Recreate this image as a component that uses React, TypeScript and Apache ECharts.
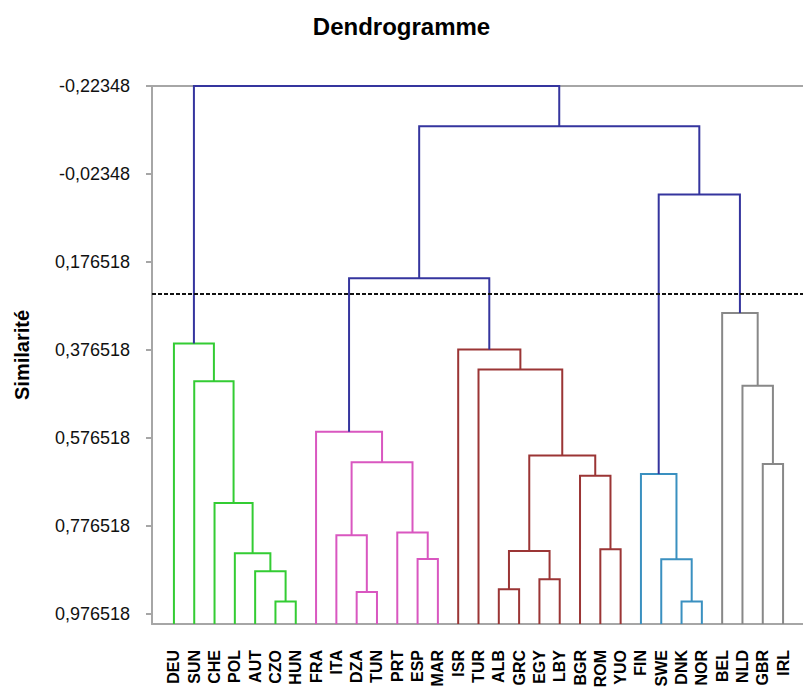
import React, { useEffect, useRef } from "react";
import * as echarts from "echarts";

// ---- data ----
const LEAVES = [
  "DEU", "SUN", "CHE", "POL", "AUT", "CZO", "HUN",
  "FRA", "ITA", "DZA", "TUN", "PRT", "ESP", "MAR",
  "ISR", "TUR", "ALB", "GRC", "EGY", "LBY", "BGR", "ROM", "YUO",
  "FIN", "SWE", "DNK", "NOR",
  "BEL", "NLD", "GBR", "IRL",
];

// merges (linkage style): [childA, childB, similarity level, colour group]
// ids 0..30 are leaves, merge k gets id 31 + k
const MERGES: [number, number, number, string][] = [
  [5, 6, 0.949, "green"],     // 31 CZO-HUN
  [25, 26, 0.949, "teal"],    // 32 DNK-NOR
  [9, 10, 0.927, "pink"],     // 33 DZA-TUN
  [16, 17, 0.921, "brown"],   // 34 ALB-GRC
  [18, 19, 0.898, "brown"],   // 35 EGY-LBY
  [4, 31, 0.880, "green"],    // 36
  [24, 32, 0.853, "teal"],    // 37
  [12, 13, 0.852, "pink"],    // 38 ESP-MAR
  [3, 36, 0.839, "green"],    // 39
  [34, 35, 0.834, "brown"],   // 40
  [21, 22, 0.830, "brown"],   // 41 ROM-YUO
  [8, 33, 0.798, "pink"],     // 42
  [11, 38, 0.792, "pink"],    // 43
  [2, 39, 0.725, "green"],    // 44
  [20, 41, 0.663, "brown"],   // 45
  [23, 37, 0.659, "teal"],    // 46
  [29, 30, 0.636, "gray"],    // 47 GBR-IRL
  [42, 43, 0.632, "pink"],    // 48
  [40, 45, 0.617, "brown"],   // 49
  [7, 48, 0.563, "pink"],     // 50
  [28, 47, 0.458, "gray"],    // 51
  [1, 44, 0.448, "green"],    // 52
  [15, 49, 0.421, "brown"],   // 53
  [14, 53, 0.376, "brown"],   // 54
  [0, 52, 0.362, "green"],    // 55
  [27, 51, 0.293, "gray"],    // 56
  [50, 54, 0.214, "navy"],    // 57
  [46, 56, 0.023, "navy"],    // 58
  [57, 58, -0.132, "navy"],   // 59
  [55, 59, -0.22348, "navy"], // 60
];

const CUT_LEVEL = 0.2522;
const LEAF_LEVEL = 1.0;
const Y_MIN = -0.22348;
const Y_MAX = 1.0;
const TICK_VALUES = [-0.22348, -0.02348, 0.176518, 0.376518, 0.576518, 0.776518, 0.976518];
const TICK_LABELS = ["-0,22348", "-0,02348", "0,176518", "0,376518", "0,576518", "0,776518", "0,976518"];

const COLORS: Record<string, string> = {
  green: "#33cc33",
  pink: "#d957c0",
  brown: "#9b3535",
  teal: "#3a90c0",
  gray: "#888888",
  navy: "#35359e",
};

const FONT = "Arial, 'Liberation Sans', sans-serif";
const AXIS_GRAY = "#a6a6a6";

function buildSegments() {
  const n = LEAVES.length;
  const xs: number[] = LEAVES.map((_, i) => i);
  const hs: number[] = LEAVES.map(() => LEAF_LEVEL);
  const rows: (number | string)[][] = [];
  MERGES.forEach(([a, b, h, c], k) => {
    rows.push([xs[a], xs[b], hs[a], hs[b], h, c]);
    xs[n + k] = (xs[a] + xs[b]) / 2;
    hs[n + k] = h;
  });
  return rows;
}

export default function App() {
  const ref = useRef<HTMLDivElement>(null);
  useEffect(() => {
    if (!ref.current) return;
    const chart = echarts.init(ref.current, undefined, { renderer: "svg" });
    const rows = buildSegments();
    const leafIdx = LEAVES.map((_, i) => i);
    const X_MIN = -1.08;
    const X_MAX = LEAVES.length - 1 + 1.08;
    chart.setOption({
      animation: false,
      backgroundColor: "#ffffff",
      title: {
        text: "Dendrogramme",
        left: "center",
        top: 9,
        textStyle: { fontFamily: FONT, fontWeight: "bold", fontSize: 24, color: "#000" },
      },
      grid: {
        left: 152,
        top: 86,
        width: 653,
        bottom: 69,
        show: false,
        outerBoundsMode: "none",
      },
      xAxis: [
        {
          type: "value",
          position: "bottom",
          min: X_MIN,
          max: X_MAX,
          axisLine: { show: true, onZero: false, lineStyle: { color: AXIS_GRAY, width: 2 } },
          axisTick: { show: false },
          splitLine: { show: false },
          axisLabel: {
            customValues: leafIdx,
            rotate: 90,
            margin: 26,
            fontFamily: FONT,
            fontWeight: "bold",
            fontSize: 16,
            color: "#000",
            formatter: (v: number) => LEAVES[Math.round(v)] ?? "",
          },
        },
        {
          type: "value",
          position: "top",
          min: X_MIN,
          max: X_MAX,
          axisLine: { show: true, onZero: false, lineStyle: { color: AXIS_GRAY, width: 2 } },
          axisTick: { show: false },
          axisLabel: { show: false },
          splitLine: { show: false },
        },
      ],
      yAxis: {
        type: "value",
        inverse: true,
        min: Y_MIN,
        max: Y_MAX,
        name: "Similarité",
        nameLocation: "middle",
        nameRotate: 90,
        nameGap: 120,
        nameTextStyle: { fontFamily: FONT, fontWeight: "bold", fontSize: 20, color: "#000" },
        axisLine: { show: true, onZero: false, lineStyle: { color: AXIS_GRAY, width: 2 } },
        axisTick: { show: true, customValues: TICK_VALUES, length: 6, lineStyle: { color: AXIS_GRAY, width: 2 } },
        splitLine: { show: false },
        axisLabel: {
          customValues: TICK_VALUES,
          margin: 22,
          fontFamily: FONT,
          fontSize: 18,
          color: "#111",
          formatter: (v: number) => {
            const i = TICK_VALUES.findIndex((t) => Math.abs(t - v) < 1e-6);
            return i >= 0 ? TICK_LABELS[i] : "";
          },
        },
      },
      series: [
        {
          type: "custom",
          coordinateSystem: "cartesian2d",
          xAxisIndex: 0,
          yAxisIndex: 0,
          data: rows,
          encode: { x: [0, 1], y: [2, 3, 4] },
          renderItem: (params: any, api: any) => {
            const xa = api.value(0);
            const xb = api.value(1);
            const ha = api.value(2);
            const hb = api.value(3);
            const h = api.value(4);
            const c = rows[params.dataIndex][5] as string;
            const p1 = api.coord([xa, ha]);
            const p2 = api.coord([xa, h]);
            const p3 = api.coord([xb, h]);
            const p4 = api.coord([xb, hb]);
            return {
              type: "polyline",
              shape: { points: [p1, p2, p3, p4] },
              style: { stroke: COLORS[c], lineWidth: 2, fill: null },
            };
          },
          markLine: {
            silent: true,
            symbol: "none",
            label: { show: false },
            lineStyle: { color: "#111", width: 2, type: [4, 2] },
            data: [{ yAxis: CUT_LEVEL }],
          },
        },
      ],
    });
    return () => chart.dispose();
  }, []);
  return (
    <div
      ref={ref}
      style={{ position: "fixed", left: 0, top: 0, width: 803, height: 693, background: "#fff" }}
    />
  );
}
